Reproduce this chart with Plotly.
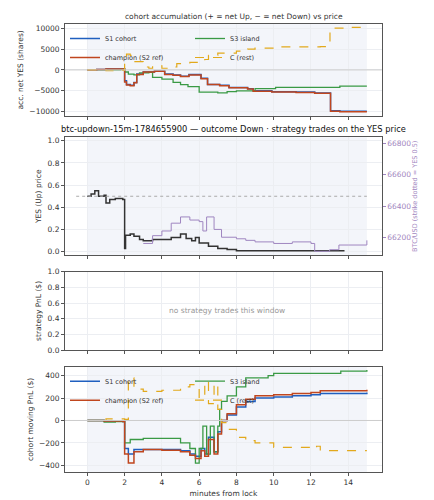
import plotly.graph_objects as go
from plotly.subplots import make_subplots

# panel 1: accumulated net YES shares
acc_t = [0, 0.5, 1, 1.9, 2.0, 2.1, 2.3, 2.5, 2.65, 3.0, 3.6, 4.15, 4.6, 5.0, 5.45, 6.1, 6.45, 7.1, 7.6, 8.6, 8.9, 9.9, 11.2, 12.2, 13.0, 13.05, 13.55, 15.0]
acc_s1 = [0, 100, 200, 200, -2600, -3500, -3700, -3000, -1000, -500, -300, -1000, -1200, -1500, -1100, -2000, -3500, -3700, -4200, -4500, -5000, -5200, -5300, -5500, -5500, -9800, -9900, -9900]
acc_ch = [0, 100, 200, 200, -2900, -3600, -3800, -3100, -1100, -500, -300, -1100, -1300, -1600, -1200, -2100, -3500, -3800, -4300, -4600, -5100, -5300, -5400, -5600, -5600, -9900, -10000, -10000]
acc_s3_t = [0, 1.8, 2.0, 2.2, 2.5, 2.8, 3.3, 3.5, 4.0, 4.6, 5.0, 5.4, 6.0, 7.0, 7.5, 8.0, 9.0, 10.1, 13.55, 15.0]
acc_s3 = [0, 200, -500, -1000, -1200, -700, -600, -1800, -2200, -3000, -3500, -4000, -5300, -5500, -5200, -5000, -4500, -4200, -3900, -3900]
acc_c_t = [0, 1.0, 1.8, 2.0, 2.1, 2.3, 2.5, 3.0, 3.3, 3.5, 4.0, 4.6, 4.8, 5.5, 6.3, 6.5, 7.0, 8.0, 8.6, 9.0, 10.0, 12.0, 12.5, 13.0, 13.02, 14.0, 15.0]
acc_c = [0, -200, -100, 3000, 3800, 3500, 2000, 700, 400, 1000, 400, 700, 1500, 1800, 2500, 3500, 4000, 4500, 5000, 5200, 5500, 5500, 5600, 5700, 10000, 10200, 10200]

# panel 2: YES price and BTC
yes_t = [0, 0.2, 0.4, 0.6, 0.9, 1.0, 1.2, 1.5, 1.9, 2.0, 2.05, 2.3, 2.5, 2.8, 3.0, 3.5, 4.0, 4.5, 5.0, 5.3, 5.6, 5.8, 6.0, 6.5, 7.0, 7.5, 8.0, 9.0, 13.8]
yes_p = [0.5, 0.52, 0.55, 0.5, 0.51, 0.44, 0.47, 0.48, 0.47, 0.03, 0.15, 0.16, 0.14, 0.11, 0.10, 0.11, 0.11, 0.13, 0.16, 0.12, 0.10, 0.13, 0.08, 0.05, 0.03, 0.02, 0.01, 0.01, 0.01]
btc_t = [3.0, 3.5, 4.0, 4.5, 5.0, 5.5, 6.0, 6.2, 6.4, 6.8, 7.2, 8.0, 8.5, 9.0, 10.0, 11.0, 12.0, 12.2, 12.5, 13.0, 13.5, 14.0, 15.0]
btc_p = [66160, 66210, 66240, 66290, 66330, 66310, 66300, 66240, 66330, 66250, 66200, 66190, 66180, 66170, 66160, 66170, 66160, 66110, 66110, 66120, 66150, 66150, 66180]

# panel 4: moving PnL
pnl_t = [0, 0.9, 1.9, 2.0, 2.2, 2.5, 3.0, 4.0, 5.0, 5.5, 5.8, 6.1, 6.3, 6.5, 6.8, 7.0, 7.2, 7.5, 8.0, 8.5, 9.0, 10.0, 11.0, 12.0, 12.5, 15.0]
pnl_s1 = [0, -5, -10, -250, -300, -260, -260, -260, -270, -300, -320, -250, -300, -150, -280, -100, 0, 50, 120, 170, 200, 210, 220, 230, 240, 250]
pnl_ch = [0, -5, -10, -300, -380, -280, -260, -265, -280, -310, -340, -270, -320, -170, -300, -120, 0, 60, 140, 190, 220, 230, 240, 250, 265, 275]
pnl_s3_t = [0, 0.9, 1.5, 2.0, 2.3, 3.0, 4.0, 5.0, 5.5, 5.8, 6.0, 6.2, 6.4, 6.6, 6.8, 7.0, 7.1, 7.2, 7.5, 8.0, 8.5, 9.7, 10.0, 13.6, 15.0]
pnl_s3 = [0, -15, -10, -200, -170, -160, -160, -200, -250, -380, -250, -50, -300, -50, -280, -50, 100, 170, 220, 300, 380, 400, 420, 440, 450]
pnl_c_t = [0, 1.0, 2.0, 2.2, 2.5, 3.0, 4.0, 5.0, 5.5, 6.0, 6.3, 6.5, 6.8, 7.0, 7.2, 7.5, 8.0, 8.5, 9.0, 10.0, 12.0, 12.3, 12.5, 15.0]
pnl_c = [0, 15, 10, 380, 280, 260, 270, 300, 320, 200, 350, 150, 330, 100, -20, -80, -150, -180, -200, -240, -250, -230, -270, -270]

BLUE, RED, GREEN, GOLD = "#1f5fbf", "#c0461e", "#3a9a45", "#e2a91c"
PURPLE = "#9f86c0"

fig = make_subplots(rows=4, cols=1, specs=[[{}], [{"secondary_y": True}], [{}], [{}]])


def add_cohorts(row, t, s1, ch, t3, s3, tc, c, legend):
    fig.add_trace(go.Scatter(x=t, y=s1, name="S1 cohort", line=dict(color=BLUE, width=1.5, shape="hv"),
                             legend=legend), row=row, col=1)
    fig.add_trace(go.Scatter(x=t3, y=s3, name="S3 island", line=dict(color=GREEN, width=1.3, shape="hv"),
                             legend=legend), row=row, col=1)
    fig.add_trace(go.Scatter(x=t, y=ch, name="champion (S2 ref)", line=dict(color=RED, width=1.5, shape="hv"),
                             legend=legend), row=row, col=1)
    fig.add_trace(go.Scatter(x=tc, y=c, name="C (rest)", line=dict(color=GOLD, width=1.2, shape="hv", dash="dash"),
                             legend=legend), row=row, col=1)


add_cohorts(1, acc_t, acc_s1, acc_ch, acc_s3_t, acc_s3, acc_c_t, acc_c, "legend")
add_cohorts(4, pnl_t, pnl_s1, pnl_ch, pnl_s3_t, pnl_s3, pnl_c_t, pnl_c, "legend2")

fig.add_trace(go.Scatter(x=btc_t, y=btc_p, line=dict(color=PURPLE, width=1, shape="hv"), showlegend=False),
              row=2, col=1, secondary_y=True)
fig.add_trace(go.Scatter(x=yes_t, y=yes_p, line=dict(color="#333333", width=1.5, shape="hv"), showlegend=False),
              row=2, col=1)

for r in (1, 2, 3, 4):
    fig.add_vrect(x0=0, x1=15, fillcolor="#eef1f8", opacity=0.7, line_width=0, layer="below", row=r, col=1)
fig.add_hline(y=0, line=dict(color="#cccccc", width=1), row=1, col=1)
fig.add_hline(y=0, line=dict(color="#cccccc", width=1), row=4, col=1)
fig.add_shape(type="line", x0=-0.6, x1=15, y0=0.5, y1=0.5, line=dict(color="#aaaaaa", width=1, dash="dot"),
              xref="x2", yref="y2")

axis_style = dict(showline=True, mirror=True, linecolor="#555555", linewidth=1, ticks="outside",
                  ticklen=3, tickcolor="#555555", gridcolor="#eceef2", zeroline=False, title_font=dict(size=7.5),
                  title_standoff=4)
doms = [[0.795, 1.0], [0.484, 0.747], [0.272, 0.447], [0.0, 0.235]]
for i in range(1, 5):
    fig.update_xaxes(range=[-1.2, 15.8], tick0=0, dtick=2, showticklabels=(i == 4), row=i, col=1, **axis_style)
fig.update_xaxes(title_text="minutes from lock", row=4, col=1)
acc_ticks = [-10000, -5000, 0, 5000, 10000]
fig.update_yaxes(title_text="acc. net YES (shares)", range=[-11000, 11000], tickvals=acc_ticks,
                 ticktext=["−10000", "−5000", "0", "5000", "10000"], row=1, col=1, **axis_style)
fig.update_yaxes(title_text="YES (Up) price", range=[-0.03, 1.03], dtick=0.2, tickformat=".1f",
                 row=2, col=1, secondary_y=False, **axis_style)
fig.update_yaxes(title_text="BTC/USD (strike dotted = YES 0.5)", range=[66085, 66840],
                 tickvals=[66200, 66400, 66600, 66800], ticktext=["66200", "66400", "66600", "66800"],
                 tickfont=dict(color=PURPLE), title_font=dict(color=PURPLE, size=6.5), title_standoff=2, showgrid=False,
                 ticks="outside", ticklen=3, tickcolor=PURPLE, row=2, col=1, secondary_y=True)
fig.update_yaxes(title_text="strategy PnL ($)", range=[0, 1], dtick=0.2, tickformat=".1f", row=3, col=1, **axis_style)
fig.update_yaxes(title_text="cohort moving PnL ($)", range=[-460, 480], tickvals=[-400, -200, 0, 200, 400],
                 ticktext=["−400", "−200", "0", "200", "400"], row=4, col=1, **axis_style)

legend_style = dict(xanchor="left", yanchor="top", orientation="h", entrywidth=80, entrywidthmode="pixels",
                    bgcolor="rgba(255,255,255,0)", font=dict(size=6.5), itemwidth=30, tracegroupgap=0)
fig.update_layout(
    yaxis=dict(domain=doms[0]), yaxis2=dict(domain=doms[1]), yaxis3=dict(domain=doms[1]),
    yaxis4=dict(domain=doms[2]), yaxis5=dict(domain=doms[3]),
    width=434, height=500, margin=dict(l=48, r=40, t=14, b=27),
    plot_bgcolor="white", paper_bgcolor="white",
    font=dict(family="DejaVu Sans", size=7.5, color="#333333"),
    legend=dict(x=0.0, y=1.0, **legend_style),
    legend2=dict(x=0.0, y=0.235, **legend_style),
    annotations=[
        dict(text="cohort accumulation (+ = net Up, − = net Down) vs price", x=0.5, y=1.0, xref="paper", yref="paper",
             yanchor="bottom", showarrow=False, font=dict(size=7.5), yshift=1),
        dict(text="btc-updown-15m-1784655900 — outcome Down · strategy trades on the YES price", x=0.5, y=doms[1][1],
             xref="paper", yref="paper", yanchor="bottom", showarrow=False, font=dict(size=8.3, color="#111111"), yshift=1),
        dict(text="no strategy trades this window", x=7.5, y=0.5, xref="x3", yref="y4", showarrow=False,
             font=dict(size=7.5, color="#999999")),
    ],
)

fig.write_html("out.html")
